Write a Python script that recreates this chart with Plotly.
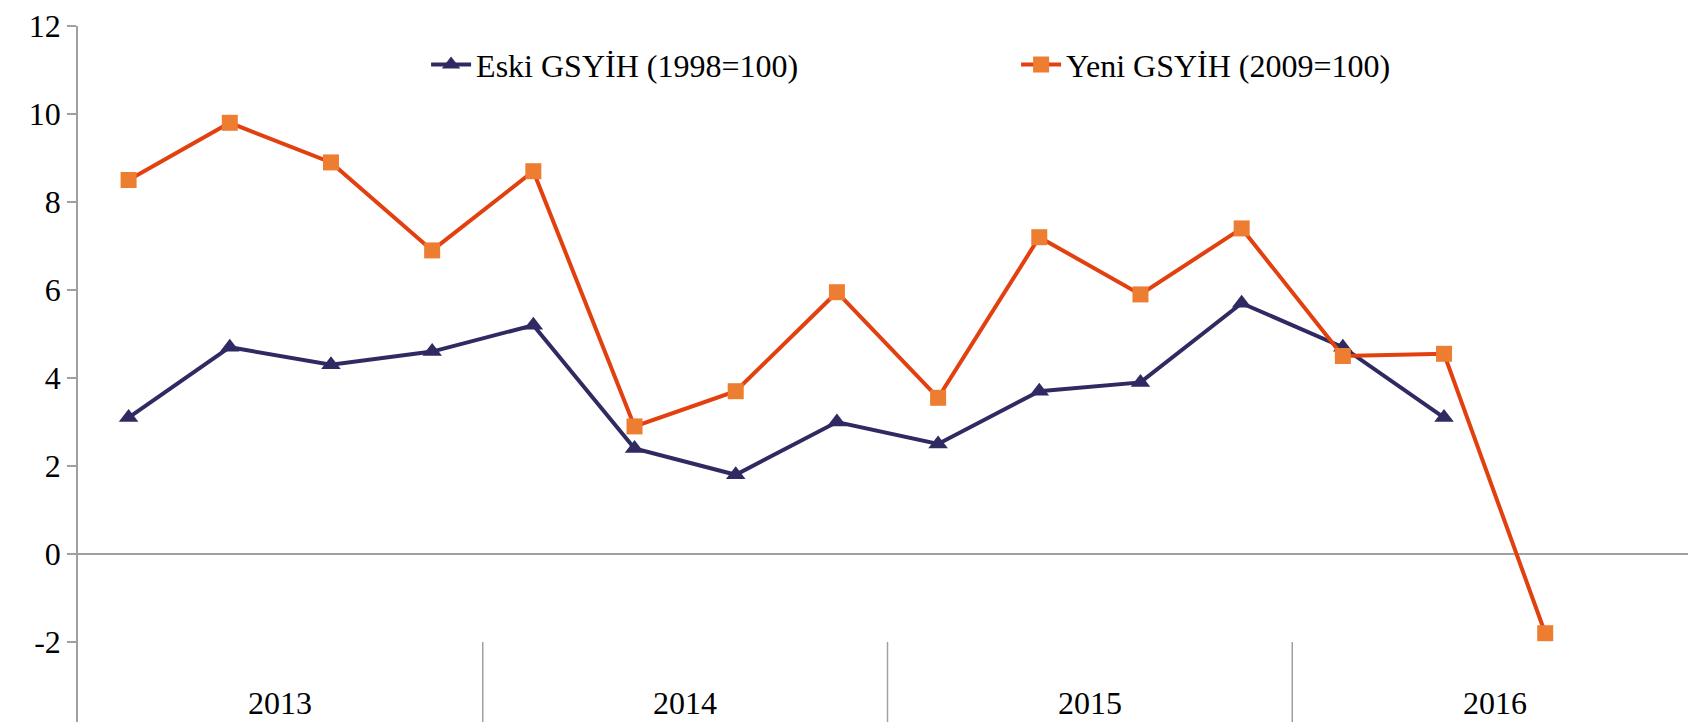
import plotly.graph_objects as go

years = ["2013", "2014", "2015", "2016"]
quarters = ["Ç1", "Ç2", "Ç3", "Ç4"]
categories = [f"{y}-{q}" for y in years for q in quarters]

eski = [3.1, 4.7, 4.3, 4.6, 5.2, 2.4, 1.8, 3.0, 2.5, 3.7, 3.9, 5.7, 4.7, 3.1, None, None]
yeni = [8.5, 9.8, 8.9, 6.9, 8.7, 2.9, 3.7, 5.95, 3.55, 7.2, 5.9, 7.4, 4.5, 4.55, -1.8, None]

y_ticks = [12, 10, 8, 6, 4, 2, 0, -2]
y_min, y_max = -4, 12

FONT = "Liberation Serif"
idx = list(range(len(categories)))

fig = go.Figure()
fig.add_trace(go.Scatter(
    x=idx, y=eski, mode="lines+markers", name="Eski GSYİH (1998=100)",
    line=dict(color="#2F2A62", width=4),
    marker=dict(symbol="triangle-up", size=17, color="#2F2A62"),
    customdata=categories,
))
fig.add_trace(go.Scatter(
    x=idx, y=yeni, mode="lines+markers", name="Yeni GSYİH (2009=100)",
    line=dict(color="#E2400F", width=4),
    marker=dict(symbol="square", size=16, color="#ED7D31"),
    customdata=categories,
))

# year separators on the category axis (below -2)
n_q = len(quarters)
for k in range(1, len(years) + 1):
    fig.add_shape(type="line", xref="x", yref="y",
                  x0=k * n_q - 0.5, x1=k * n_q - 0.5, y0=-2, y1=y_min,
                  line=dict(color="#A0A0A0", width=1.5))
for k, yr in enumerate(years):
    fig.add_annotation(x=k * n_q + (n_q - 1) / 2, y=-3.38, xref="x", yref="y",
                       text=yr, showarrow=False, yanchor="middle",
                       font=dict(family=FONT, size=32, color="black"))

fig.update_layout(
    width=1696, height=722,
    margin=dict(l=70, r=7, t=18, b=0, autoexpand=False),
    paper_bgcolor="white", plot_bgcolor="white",
    font=dict(family=FONT, size=32, color="black"),
    showlegend=True,
    legend=dict(orientation="h", x=0.215, y=0.945, xanchor="left", yanchor="middle",
                entrywidth=535, entrywidthmode="pixels",
                font=dict(family=FONT, size=32, color="black"),
                bgcolor="rgba(0,0,0,0)", itemwidth=40),
    xaxis=dict(range=[-0.5, len(categories) - 0.5], showgrid=False, zeroline=False,
               showticklabels=False, showline=False, ticks="", automargin=False),
    yaxis=dict(range=[y_min, y_max], tickvals=y_ticks, ticktext=[str(v) for v in y_ticks],
               showgrid=False, zeroline=True, zerolinecolor="#A0A0A0", zerolinewidth=1.5,
               showline=True, linecolor="#A0A0A0", linewidth=1.5, automargin=False,
               ticklabeloverflow="allow",
               ticks="outside", ticklen=9, tickcolor="#A0A0A0", tickwidth=1.5,
               tickfont=dict(family=FONT, size=32, color="black")),
)

fig.write_html("out.html")
